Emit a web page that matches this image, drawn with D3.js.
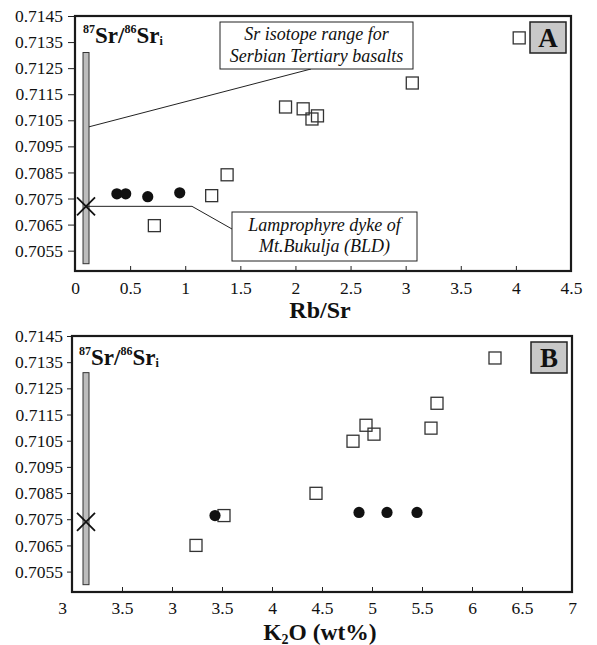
<!DOCTYPE html>
<html>
<head>
<meta charset="utf-8">
<script src="https://cdn.jsdelivr.net/npm/d3@7"></script>
<style>
  body { margin: 0; background: #fff; }
</style>
</head>
<body>
<svg id="chart" width="597" height="645" font-family="'Liberation Serif', 'Times New Roman', serif"></svg>
<script>
// Panel A: Rb/Sr vs initial 87Sr/86Sr
const rbsrCircles = [[0.38, 0.70768], [0.46, 0.70768], [0.66, 0.70757], [0.95, 0.70772]];
const rbsrSquares = [[0.72, 0.70646], [1.24, 0.70761], [1.38, 0.70841], [1.91, 0.71101], [2.07, 0.71094],
                     [2.15, 0.71055], [2.20, 0.71067], [3.06, 0.71193], [4.03, 0.71366]];
const rbsrBLD = [0.1, 0.7072];
const rbsrTicks = [0, 0.5, 1, 1.5, 2, 2.5, 3, 3.5, 4, 4.5];
const rbsrTickLabels = ["0", "0.5", "1", "1.5", "2", "2.5", "3", "3.5", "4", "4.5"];

// Panel B: K2O vs initial 87Sr/86Sr
const k2oCircles = [[3.43, 0.70764], [4.87, 0.70776], [5.15, 0.70776], [5.45, 0.70776]];
const k2oSquares = [[3.24, 0.70650], [3.52, 0.70764], [4.44, 0.70849], [4.81, 0.71048], [4.94, 0.71109],
                    [5.02, 0.71075], [5.59, 0.71098], [5.65, 0.71193], [6.23, 0.71366]];
const k2oBLD = [2.14, 0.7074];
const k2oTicks = [2, 2.5, 3, 3.5, 4, 4.5, 5, 5.5, 6, 6.5, 7];
const k2oTickLabels = ["3", "3.5", "3", "3.5", "4", "4.5", "5", "5.5", "6", "6.5", "7"];

// shared y axis
const srTicks = [0.7055, 0.7065, 0.7075, 0.7085, 0.7095, 0.7105, 0.7115, 0.7125, 0.7135, 0.7145];
const srDomain = [0.70472, 0.7145];
const serbianRange = [0.7050, 0.7131];

const FONT = "'Liberation Serif', 'Times New Roman', serif";
const svg = d3.select("#chart");

function drawPanel(p) {
    const x = d3.scaleLinear().domain(p.xDomain).range([p.left, p.right]);
    const y = d3.scaleLinear().domain(srDomain).range([p.bottom, p.top]);
    const g = svg.append("g");

    // y axis, ticks pointing out
    const yAxis = g.append("g")
        .attr("transform", `translate(${p.left},0)`)
        .call(d3.axisLeft(y).tickValues(srTicks).tickFormat(d3.format(".4f"))
            .tickSize(p.yTick).tickPadding(p.yPad));
    yAxis.attr("font-family", FONT).attr("font-size", 17.5);
    yAxis.select(".domain").remove();
    yAxis.selectAll("text").attr("fill", "#111");
    yAxis.selectAll("line").attr("stroke", "#222");

    // x axis, ticks pointing in
    const xAxis = g.append("g")
        .attr("transform", `translate(0,${p.bottom})`)
        .call(d3.axisBottom(x).tickValues(p.xTicks).tickFormat((d, i) => p.xLabels[i])
            .tickSize(-5).tickPadding(p.xPad));
    xAxis.attr("font-family", FONT).attr("font-size", 17.5);
    xAxis.select(".domain").remove();
    xAxis.selectAll("text").attr("fill", "#111");
    xAxis.selectAll("line").attr("stroke", "#222");
    if (p.firstLabelShift) {
        xAxis.select(".tick text").attr("x", p.firstLabelShift);
    }

    // frame
    g.append("rect")
        .attr("x", p.left).attr("y", p.top)
        .attr("width", p.right - p.left).attr("height", p.bottom - p.top)
        .attr("fill", "none").attr("stroke", "#1a1a1a").attr("stroke-width", 2.2);

    // Serbian Tertiary basalt range bar
    g.append("rect")
        .attr("x", x(p.bld[0]) - 3).attr("y", y(serbianRange[1]))
        .attr("width", 6).attr("height", y(serbianRange[0]) - y(serbianRange[1]))
        .attr("fill", "#bdbdbd").attr("stroke", "#333").attr("stroke-width", 1);

    if (p.callouts) p.callouts(g, x, y);

    // open squares
    g.selectAll(".sq").data(p.squares).enter().append("rect")
        .attr("x", d => x(d[0]) - 6).attr("y", d => y(d[1]) - 6)
        .attr("width", 12).attr("height", 12)
        .attr("fill", "none").attr("stroke", "#333").attr("stroke-width", 1.3);

    // filled circles
    g.selectAll(".ci").data(p.circles).enter().append("circle")
        .attr("cx", d => x(d[0])).attr("cy", d => y(d[1])).attr("r", 5.6)
        .attr("fill", "#111");

    // BLD cross
    const bx = x(p.bld[0]), by = y(p.bld[1]);
    g.append("path")
        .attr("d", `M${bx - 9},${by - 9}L${bx + 9},${by + 9}M${bx - 9},${by + 9}L${bx + 9},${by - 9}`)
        .attr("stroke", "#111").attr("stroke-width", 1.8);

    // y label inside plot
    const lab = g.append("text")
        .attr("x", p.left + p.labDx).attr("y", p.top + p.labDy)
        .attr("font-weight", "bold").attr("font-size", 23).attr("fill", "#111");
    lab.append("tspan").text("87").attr("font-size", 12).attr("dy", -10);
    lab.append("tspan").text("Sr/").attr("dy", 10);
    lab.append("tspan").text("86").attr("font-size", 12).attr("dy", -10);
    lab.append("tspan").text("Sr").attr("dy", 10);
    lab.append("tspan").text("i").attr("font-size", 12).attr("dy", 2);

    // panel letter
    g.append("rect")
        .attr("x", p.right - 41).attr("y", p.top + 6)
        .attr("width", 36).attr("height", 31)
        .attr("fill", "#c8c8c8").attr("stroke", "#222").attr("stroke-width", 1.5);
    g.append("text")
        .attr("x", p.right - 23).attr("y", p.top + 31)
        .attr("text-anchor", "middle")
        .attr("font-weight", "bold").attr("font-size", 27).attr("fill", "#111")
        .text(p.letter);

    // x title
    const t = g.append("text")
        .attr("x", p.titleX).attr("y", p.titleY)
        .attr("text-anchor", "middle")
        .attr("font-weight", "bold").attr("font-size", p.titleSize).attr("fill", "#111");
    p.title.forEach(s => {
        const ts = t.append("tspan").text(s.t).attr("dy", s.dy || 0);
        if (s.sub) ts.attr("font-size", 14);
    });
}

function noteBox(g, x0, y0, w, h, lines, baselines) {
    g.append("rect").attr("x", x0).attr("y", y0).attr("width", w).attr("height", h)
        .attr("fill", "#fff").attr("stroke", "#222").attr("stroke-width", 1);
    lines.forEach((s, i) => {
        g.append("text").attr("x", x0 + w / 2).attr("y", baselines[i])
            .attr("text-anchor", "middle").attr("fill", "#111")
            .attr("font-style", "italic").attr("font-size", 18)
            .text(s);
    });
}

drawPanel({
    left: 75, right: 571, top: 16, bottom: 271,
    xDomain: [0, 4.5], xTicks: rbsrTicks, xLabels: rbsrTickLabels, xPad: 11,
    yTick: 7, yPad: 5,
    squares: rbsrSquares, circles: rbsrCircles, bld: rbsrBLD,
    labDx: 8, labDy: 27, letter: "A",
    titleX: 320, titleY: 318, titleSize: 24,
    title: [{ t: "Rb/Sr" }],
    callouts: (g, x, y) => {
        g.append("line")
            .attr("x1", x(rbsrBLD[0]) + 3).attr("y1", y(0.71025))
            .attr("x2", 311).attr("y2", 69)
            .attr("stroke", "#222").attr("stroke-width", 1);
        noteBox(g, 220, 22, 193, 47, ["Sr isotope range for", "Serbian Tertiary basalts"], [40, 62]);
        const by = y(rbsrBLD[1]);
        g.append("path")
            .attr("d", `M${x(rbsrBLD[0])},${by}L192,${by}L232,229`)
            .attr("fill", "none").attr("stroke", "#222").attr("stroke-width", 1);
        noteBox(g, 232, 212, 185, 49, ["Lamprophyre dyke of", "Mt.Bukulja (BLD)"], [231, 252]);
    }
});

drawPanel({
    left: 72, right: 572, top: 336, bottom: 592,
    xDomain: [2, 7], xTicks: k2oTicks, xLabels: k2oTickLabels, xPad: 10, firstLabelShift: -10,
    yTick: 5, yPad: 4,
    squares: k2oSquares, circles: k2oCircles, bld: k2oBLD,
    labDx: 7, labDy: 29, letter: "B",
    titleX: 320, titleY: 639.5, titleSize: 23.5,
    title: [{ t: "K" }, { t: "2", sub: true, dy: 4 }, { t: "O (wt%)", dy: -4 }]
});
</script>
</body>
</html>
